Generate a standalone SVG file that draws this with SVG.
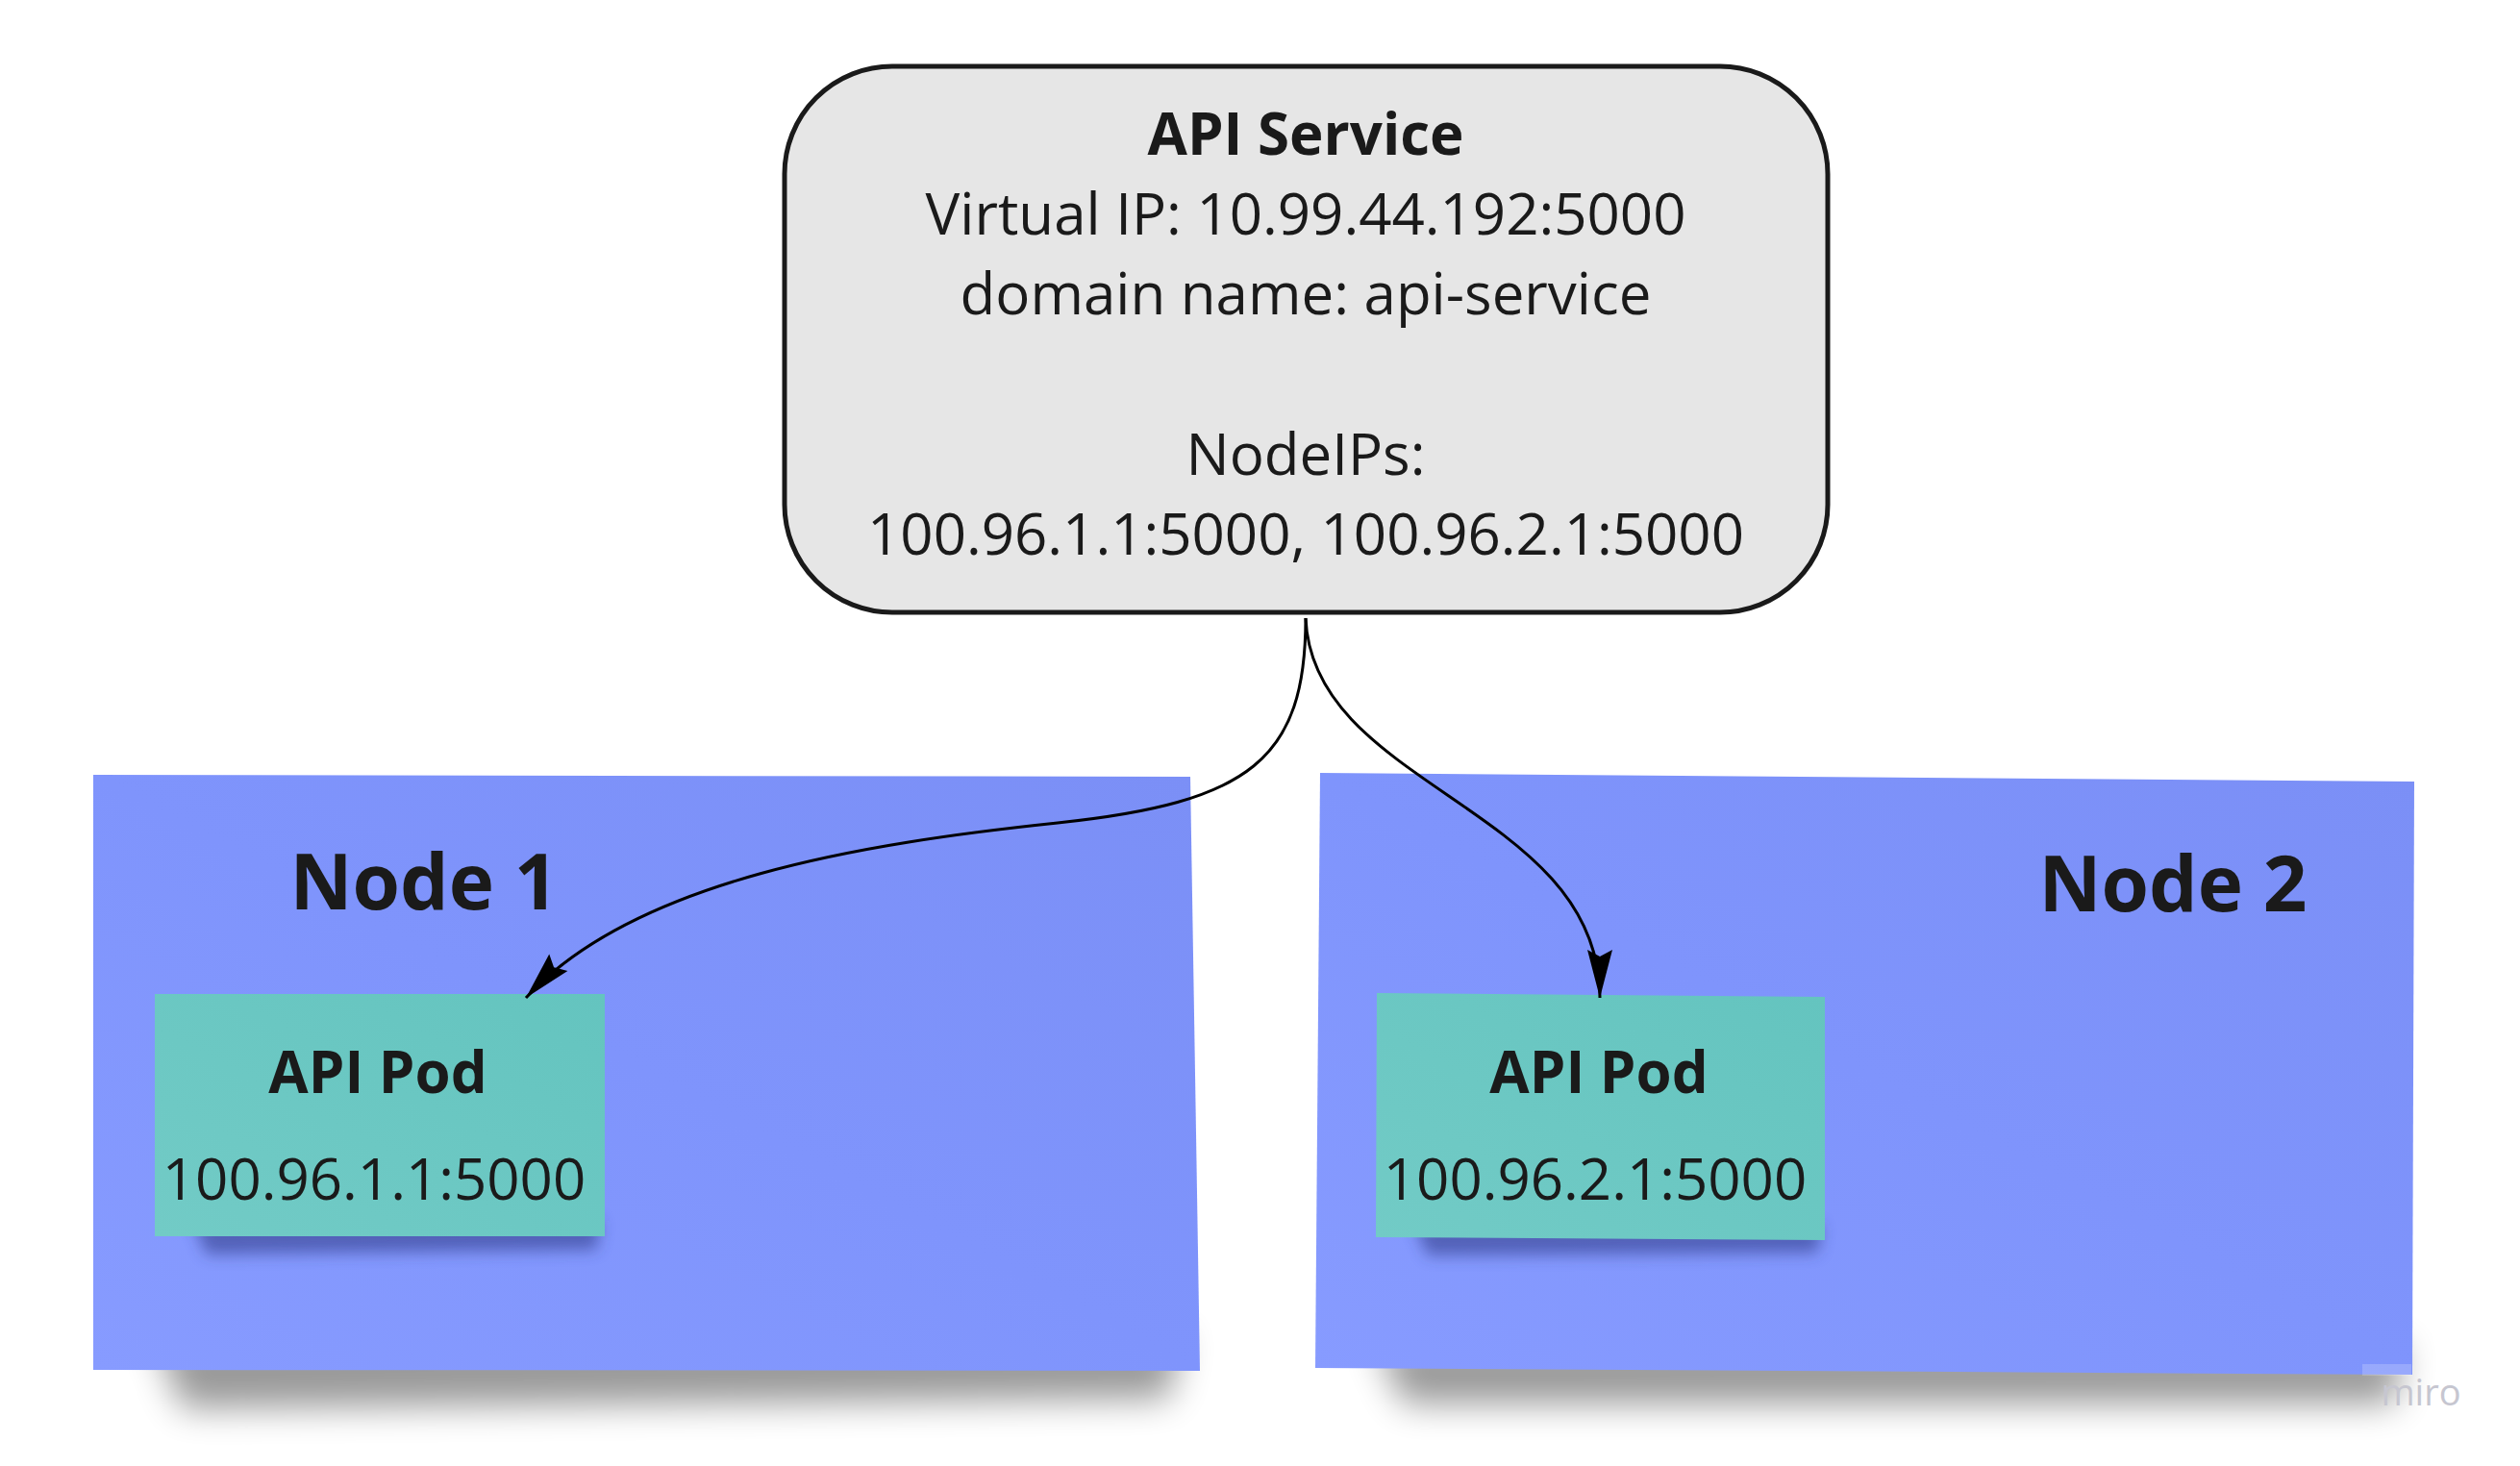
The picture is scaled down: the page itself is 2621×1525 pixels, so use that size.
<svg xmlns="http://www.w3.org/2000/svg" width="2621" height="1525" viewBox="0 0 2621 1525">
<style>
  .title { font-family: "Open Sans", "Liberation Sans", sans-serif; font-weight: 700; fill: #1a1a1a; text-anchor: middle; }
  .txt { font-family: "Open Sans", "Liberation Sans", sans-serif; font-weight: 400; fill: #1a1a1a; text-anchor: middle; font-size: 60px; }
  .conn { fill: none; stroke: #000; stroke-width: 3; }
</style>
<defs>
  <linearGradient id="nodeGrad" x1="1" y1="0" x2="0" y2="1">
    <stop offset="0" stop-color="#7b8ff6"/>
    <stop offset="0.5" stop-color="#7f94fc"/>
    <stop offset="1" stop-color="#879bff"/>
  </linearGradient>
  <linearGradient id="podGrad" x1="1" y1="0" x2="0" y2="1">
    <stop offset="0" stop-color="#64c4bf"/>
    <stop offset="1" stop-color="#72cbc6"/>
  </linearGradient>
  <filter id="shadowBig" x="-20%" y="-100%" width="140%" height="300%">
    <feGaussianBlur stdDeviation="18"/>
  </filter>
  <filter id="shadowSmall" x="-20%" y="-50%" width="140%" height="200%">
    <feGaussianBlur stdDeviation="8"/>
  </filter>
  <marker id="arrow" markerUnits="userSpaceOnUse" viewBox="-52 -15 54 30" refX="0" refY="0" markerWidth="54" markerHeight="30" orient="auto">
    <path d="M0,0 L-50,-13 L-43,0 L-50,13 Z" fill="#000"/>
  </marker>
</defs>

<g id="node1">
  <path d="M160,1390 L1230,1390 L1215,1455 L190,1465 Z" fill="#000" opacity="0.4" filter="url(#shadowBig)"/>
  <polygon points="97,806 1238,808 1248,1426 97,1425" fill="url(#nodeGrad)"/>
  <text class="title" x="441" y="946" font-size="80">Node 1</text>
</g>

<g id="node2">
  <path d="M1430,1395 L2500,1400 L2490,1460 L1460,1460 Z" fill="#000" opacity="0.4" filter="url(#shadowBig)"/>
  <polygon points="1373,804 2511,813 2509,1430 1368,1423" fill="url(#nodeGrad)"/>
  <text class="title" x="2260" y="948" font-size="80">Node 2</text>
</g>

<g id="pod1">
  <path d="M200,1270 L625,1270 L620,1300 L215,1305 Z" fill="#2a3580" opacity="0.55" filter="url(#shadowSmall)"/>
  <rect x="161" y="1034" width="468" height="252" fill="url(#podGrad)"/>
  <text class="title" x="393" y="1137" font-size="60">API Pod</text>
  <text class="txt" x="389" y="1248">100.96.1.1:5000</text>
</g>

<g id="pod2">
  <path d="M1470,1272 L1895,1275 L1890,1303 L1485,1306 Z" fill="#2a3580" opacity="0.55" filter="url(#shadowSmall)"/>
  <polygon points="1432,1033 1898,1037 1898,1290 1431,1287" fill="url(#podGrad)"/>
  <text class="title" x="1663" y="1137" font-size="60">API Pod</text>
  <text class="txt" x="1659" y="1248">100.96.2.1:5000</text>
</g>

<g id="api-service">
  <rect x="816" y="69" width="1085" height="568" rx="112" ry="112" fill="#e6e6e6" stroke="#1a1a1a" stroke-width="5"/>
  <text class="title" x="1358" y="161" font-size="60">API Service</text>
  <text class="txt" x="1358" y="244">Virtual IP: 10.99.44.192:5000</text>
  <text class="txt" x="1358" y="327">domain name: api-service</text>
  <text class="txt" x="1358" y="494">NodeIPs:</text>
  <text class="txt" x="1358" y="577">100.96.1.1:5000, 100.96.2.1:5000</text>
</g>

<g id="connectors">
  <path class="conn" d="M1358,643 C1358,790 1300,835 1100,856 C900,877 660,915 547,1038" marker-end="url(#arrow)"/>
  <path class="conn" d="M1358,643 C1365,820 1664,840 1664,1038" marker-end="url(#arrow)"/>
</g>

<g id="watermark">
  <rect x="2457" y="1419" width="51" height="12" fill="#ffffff" opacity="0.2"/>
  <text x="2518" y="1462" font-family="'Open Sans', 'Liberation Sans', sans-serif" font-size="38" fill="#c6c6d0" text-anchor="middle">miro</text>
</g>
</svg>
